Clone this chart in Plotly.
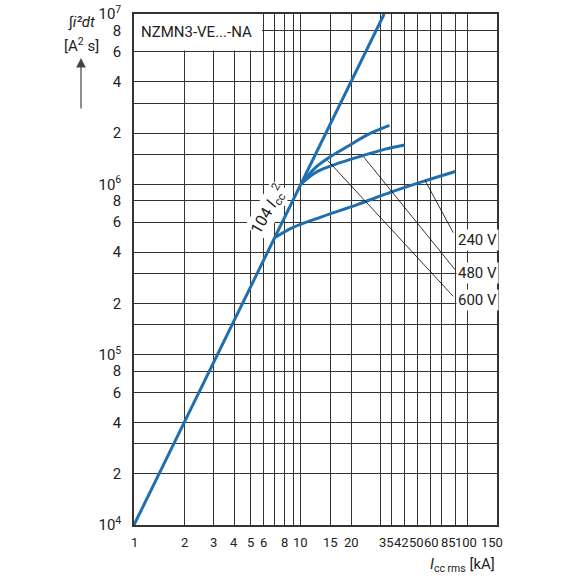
import math
import plotly.graph_objects as go

# Durchlassenergie NZMN3-VE...-NA
# Hauptgerade 10^4 * Icc^2
line_i = [1, 31.6]
line_w = [1e4, 1e7]

# Kurven je Spannung (Icc in kA, I2t in A2s)
i_240 = [7.0, 9.0, 13.6, 21.8, 34.4, 54.2, 84.4]
w_240 = [4.87e5, 5.59e5, 6.49e5, 7.6e5, 8.97e5, 1.04e6, 1.19e6]

i_480 = [10, 12.2, 16.1, 23.3, 32.1, 41.9]
w_480 = [1.0e6, 1.17e6, 1.31e6, 1.47e6, 1.61e6, 1.70e6]

i_600 = [10, 12.2, 15.0, 19.3, 25.5, 34]
w_600 = [1.0e6, 1.25e6, 1.45e6, 1.68e6, 1.97e6, 2.22e6]

# Beschriftung der Spannungen mit Hinweislinien
volt_labels = ['240 V', '480 V', '600 V']
leader_from_i = [55.7, 23.8, 14.5]
leader_from_w = [1.05e6, 1.45e6, 1.38e6]
leader_to_i = [82, 84, 82]
leader_to_w = [5.2e5, 3.16e5, 2.2e5]
label_w = [4.7e5, 3.0e5, 2.1e5]

# Achsen
x_grid = [1, 2, 3, 4, 5, 6, 7, 8, 9, 10, 15, 20, 30, 35, 42, 50, 60, 70, 85, 100, 150]
x_labels = [1, 2, 3, 4, 5, 6, 8, 10, 15, 20, 35, 42, 50, 60, 85, 100, 150]
y_labels = [1e4, 2e4, 4e4, 6e4, 8e4, 1e5, 2e5, 4e5, 6e5, 8e5, 1e6, 2e6, 4e6, 6e6, 8e6, 1e7]
y_text = ['10<sup>4</sup>', '2', '4', '6', '8', '10<sup>5</sup>', '2', '4', '6', '8',
          '10<sup>6</sup>', '2', '4', '6', '8', '10<sup>7</sup>']
y_grid_extra = [3e4, 1.5e5, 3e5, 1.5e6, 3e6]

# Etiketten im Original etwas verschoben (px), damit sie sich nicht ueberlappen
x_label_nudge = {35: -5, 42: -3, 50: -1, 60: 1, 85: -7, 100: -2, 150: -5}

FONT = 'Roboto, Liberation Sans, sans-serif'
TXT = '#222'
BLUE = '#1f6eb0'

fig = go.Figure()

fig.add_trace(go.Scatter(x=line_i, y=line_w, mode='lines', line=dict(color=BLUE, width=3)))
fig.add_trace(go.Scatter(x=i_240, y=w_240, mode='lines', line=dict(color=BLUE, width=3, shape='spline')))
fig.add_trace(go.Scatter(x=i_480, y=w_480, mode='lines', line=dict(color=BLUE, width=3, shape='spline')))
fig.add_trace(go.Scatter(x=i_600, y=w_600, mode='lines', line=dict(color=BLUE, width=3, shape='spline')))

for k in range(len(volt_labels)):
    fig.add_trace(go.Scatter(x=[leader_from_i[k], leader_to_i[k]], y=[leader_from_w[k], leader_to_w[k]],
                             mode='lines', line=dict(color='black', width=0.8)))
    fig.add_annotation(x=math.log10(85), y=math.log10(label_w[k]), text=volt_labels[k],
                       xanchor='left', yanchor='middle', showarrow=False, bgcolor='white',
                       borderpad=1, font=dict(family=FONT, size=15, color=TXT))

# x-Beschriftung
for v in x_labels:
    fig.add_annotation(xref='x', yref='paper', x=math.log10(v), y=0, yshift=-8,
                       xshift=x_label_nudge.get(v, 0), text=str(v), showarrow=False,
                       xanchor='center', yanchor='top', font=dict(family=FONT, size=13, color=TXT))

# weisses Feld fuer Typbezeichnung
fig.add_shape(type='rect', xref='x', yref='y', x0=1, x1=5.85, y0=6.1e6, y1=1e7,
              fillcolor='white', line=dict(width=0), layer='between')
fig.add_annotation(xref='x', yref='y', x=math.log10(1.07), y=math.log10(7.8e6), text='NZMN3-VE...-NA',
                   xanchor='left', yanchor='middle', showarrow=False,
                   font=dict(family=FONT, size=15, color=TXT))

# Beschriftung der Geraden
fig.add_annotation(x=math.log10(6.4), y=math.log10(7.1e5), text='104 <i>I</i><sub>cc</sub><sup>2</sup>',
                   textangle=-60, showarrow=False, bgcolor='white', borderpad=0,
                   font=dict(family=FONT, size=16, color=TXT))

# Achsentitel
fig.add_annotation(xref='paper', yref='paper', x=-0.146, y=0.984, text='∫<i>i²dt</i>',
                   xanchor='center', yanchor='middle', showarrow=False,
                   font=dict(family=FONT, size=15, color=TXT))
fig.add_annotation(xref='paper', yref='paper', x=-0.146, y=0.939, text='[A<sup>2</sup> s]',
                   xanchor='center', yanchor='middle', showarrow=False,
                   font=dict(family=FONT, size=15, color=TXT))
fig.add_annotation(xref='paper', yref='paper', x=-0.146, y=0.914, ax=0, ay=52, text='',
                   showarrow=True, arrowhead=2, arrowsize=1.6, arrowwidth=1.2, arrowcolor='#444')
fig.add_annotation(xref='paper', yref='paper', x=1.0, y=-0.078, text='<i>I</i><sub>cc rms</sub> [kA]',
                   xanchor='right', yanchor='middle', showarrow=False,
                   font=dict(family=FONT, size=15, color=TXT))

fig.update_layout(
    width=580, height=580,
    margin=dict(l=134, r=83, t=14, b=55),
    paper_bgcolor='white', plot_bgcolor='white',
    showlegend=False,
    font=dict(family=FONT, size=15, color=TXT),
    xaxis=dict(type='log', range=[0, math.log10(150)], automargin=False,
               tickvals=x_grid, showticklabels=False,
               ticks='', showgrid=True, gridcolor='#333', gridwidth=1.2,
               showline=True, linecolor='#333', linewidth=1.5, mirror=True, zeroline=False),
    yaxis=dict(type='log', range=[4, 7], automargin=False,
               tickvals=y_labels, ticktext=y_text, ticklabeloverflow='allow',
               minor=dict(tickvals=y_grid_extra, showgrid=True, gridcolor='#333', gridwidth=1.2, ticks=''),
               ticks='', ticklabelstandoff=8, showgrid=True, gridcolor='#333', gridwidth=1.2,
               showline=True, linecolor='#333', linewidth=1.5, mirror=True, zeroline=False),
)

# Seitenrand entfernen, damit die Grafik genau 580x580 fuellt
fig.write_html("out.html", config={'displayModeBar': False},
               post_script="document.body.style.margin = '0px';")
